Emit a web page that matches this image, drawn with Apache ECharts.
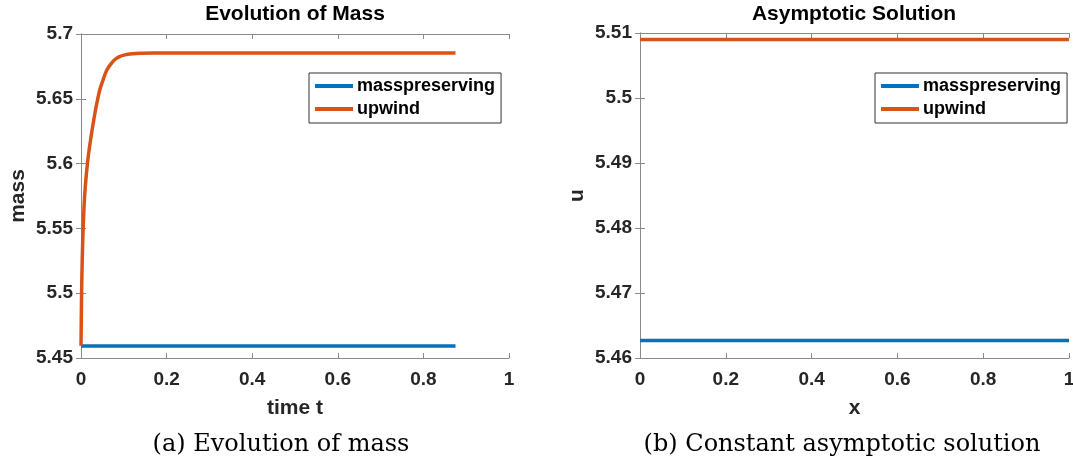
<!DOCTYPE html>
<html>
<head>
<meta charset="utf-8">
<script src="https://cdn.jsdelivr.net/npm/echarts@6/dist/echarts.min.js"></script>
<style>
  html, body { margin: 0; padding: 0; background: #fff; }
  #chart { width: 1073px; height: 461px; }
</style>
</head>
<body>
<div id="chart"></div>
<script>
// Panel (a): total mass over time
const timeT = [0, 0.001, 0.002, 0.004, 0.007, 0.01, 0.015, 0.02, 0.025, 0.03, 0.036, 0.044, 0.052, 0.06, 0.07, 0.08, 0.09, 0.1, 0.12, 0.14, 0.17, 0.2, 0.3, 0.5, 0.7, 0.875];
const massUpwind = [5.4595, 5.49, 5.512, 5.54, 5.566, 5.582, 5.600, 5.613, 5.624, 5.634, 5.645, 5.657, 5.665, 5.672, 5.677, 5.6805, 5.6825, 5.6837, 5.6847, 5.6851, 5.6853, 5.6853, 5.6853, 5.6853, 5.6853, 5.6853];
const timeMP = [0, 0.875];
const massPreserving = [5.4593, 5.4593];

// Panel (b): asymptotic solution in space
const xGrid = [0, 0.2, 0.4, 0.6, 0.8, 1];
const uPreserving = [5.4627, 5.4627, 5.4627, 5.4627, 5.4627, 5.4627];
const uUpwind = [5.509, 5.509, 5.509, 5.509, 5.509, 5.509];

const massTicks = [5.45, 5.5, 5.55, 5.6, 5.65, 5.7];
const uTicks = [5.46, 5.47, 5.48, 5.49, 5.5, 5.51];
const seriesNames = ['masspreserving', 'upwind'];

const BLUE = '#0072BD';
const ORANGE = '#D95319';
const AX = '#8a8a8a';
const TXT = '#262626';
const SANS = '"Liberation Sans", Arial, sans-serif';

const pair = (xs, ys) => xs.map((x, i) => [x, ys[i]]);
const trim = v => String(parseFloat(v.toFixed(2)));

function mainX(gi, name) {
  return {
    type: 'value', gridIndex: gi, min: 0, max: 1, interval: 0.2,
    position: 'bottom',
    name: name, nameLocation: 'middle', nameGap: 40,
    nameTextStyle: { fontFamily: SANS, fontWeight: 'bold', fontSize: 21, color: TXT },
    axisLine: { show: true, lineStyle: { color: AX, width: 1 } },
    axisTick: { show: true, inside: true, length: 5, lineStyle: { color: AX } },
    axisLabel: { margin: 12, fontFamily: SANS, fontWeight: 'bold', fontSize: 19, color: TXT, formatter: trim },
    splitLine: { show: false }
  };
}
function topX(gi) {
  return {
    type: 'value', gridIndex: gi, min: 0, max: 1, interval: 0.2, position: 'top',
    axisLine: { show: true, lineStyle: { color: AX, width: 1 } },
    axisTick: { show: true, inside: true, length: 5, lineStyle: { color: AX } },
    axisLabel: { show: false }, splitLine: { show: false }
  };
}
function mainY(gi, name, min, max, interval) {
  return {
    type: 'value', gridIndex: gi, min: min, max: max, interval: interval,
    position: 'left',
    name: name, nameLocation: 'middle', nameGap: 52, nameRotate: 90,
    nameTextStyle: { fontFamily: SANS, fontWeight: 'bold', fontSize: 21, color: TXT },
    axisLine: { show: true, lineStyle: { color: AX, width: 1 } },
    axisTick: { show: true, inside: true, length: 5, lineStyle: { color: AX } },
    axisLabel: { margin: 8, fontFamily: SANS, fontWeight: 'bold', fontSize: 19, color: TXT, formatter: trim },
    splitLine: { show: false }
  };
}
function rightY(gi, min, max, interval) {
  return {
    type: 'value', gridIndex: gi, min: min, max: max, interval: interval, position: 'right',
    axisLine: { show: true, lineStyle: { color: AX, width: 1 } },
    axisTick: { show: true, inside: true, length: 5, lineStyle: { color: AX } },
    axisLabel: { show: false }, splitLine: { show: false }
  };
}
function legendAt(left) {
  return {
    left: left, top: 73, orient: 'vertical',
    data: seriesNames,
    icon: 'rect', itemWidth: 38, itemHeight: 4, itemGap: 5,
    padding: [4, 6, 5, 6],
    borderColor: '#333', borderWidth: 1, borderRadius: 0,
    backgroundColor: '#fff',
    textStyle: { fontFamily: SANS, fontWeight: 'bold', fontSize: 18, color: '#000', padding: [0, 0, 0, -1] }
  };
}
function line(name, color, data, xi, yi) {
  return {
    name: name, type: 'line', xAxisIndex: xi, yAxisIndex: yi,
    data: data, showSymbol: false, symbol: 'none', smooth: 0.3,
    lineStyle: { color: color, width: 3.5 }, itemStyle: { color: color },
    animation: false
  };
}

const chart = echarts.init(document.getElementById('chart'), null, { renderer: 'canvas' });
chart.setOption({
  backgroundColor: '#fff',
  animation: false,
  title: [
    { text: 'Evolution of Mass', left: 295, top: 4, textAlign: 'center', padding: 0,
      textStyle: { fontFamily: SANS, fontWeight: 'bold', fontSize: 21, color: '#000' } },
    { text: 'Asymptotic Solution', left: 854, top: 4, textAlign: 'center', padding: 0,
      textStyle: { fontFamily: SANS, fontWeight: 'bold', fontSize: 21, color: '#000' } }
  ],
  legend: [legendAt(309), legendAt(875)],
  grid: [
    { left: 81, top: 34, width: 428, height: 324, outerBoundsMode: 'none' },
    { left: 640, top: 33, width: 429, height: 325, outerBoundsMode: 'none' }
  ],
  xAxis: [mainX(0, 'time t'), mainX(1, 'x'), topX(0), topX(1)],
  yAxis: [
    mainY(0, 'mass', massTicks[0], massTicks[massTicks.length - 1], 0.05),
    mainY(1, 'u', uTicks[0], uTicks[uTicks.length - 1], 0.01),
    rightY(0, massTicks[0], massTicks[massTicks.length - 1], 0.05),
    rightY(1, uTicks[0], uTicks[uTicks.length - 1], 0.01)
  ],
  series: [
    line(seriesNames[0], BLUE, pair(timeMP, massPreserving), 0, 0),
    line(seriesNames[1], ORANGE, pair(timeT, massUpwind), 0, 0),
    line(seriesNames[0], BLUE, pair(xGrid, uPreserving), 1, 1),
    line(seriesNames[1], ORANGE, pair(xGrid, uUpwind), 1, 1)
  ],
  graphic: [
    { type: 'text', x: 281, y: 445,
      style: { text: '(a) Evolution of mass', font: '24px "DejaVu Serif", serif', fill: '#000', textAlign: 'center', textVerticalAlign: 'middle' } },
    { type: 'text', x: 842, y: 445,
      style: { text: '(b) Constant asymptotic solution', font: '24px "DejaVu Serif", serif', fill: '#000', textAlign: 'center', textVerticalAlign: 'middle' } }
  ]
});
</script>
</body>
</html>
